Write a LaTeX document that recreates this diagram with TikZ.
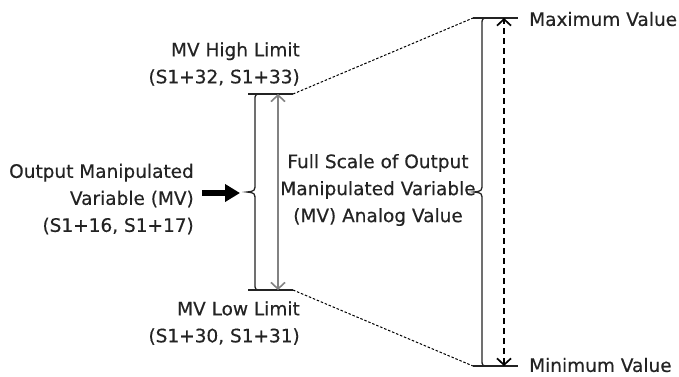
\documentclass[tikz,border=0pt]{standalone}
\usepackage{fontspec}
\setmainfont{DejaVu Sans}[FakeBold=0.4]
\usetikzlibrary{arrows.meta,positioning}
\definecolor{txtcol}{RGB}{35,35,35}
\definecolor{limgray}{RGB}{130,130,130}

% curly bracket opening to the right: x, top y, bottom y
\newcommand{\sidebrace}[3]{%
  \draw[brk] ({#1+7},#2) .. controls (#1,#2) .. (#1,{#2+7})
    -- (#1,{(#2+#3)/2-9}) .. controls (#1,{(#2+#3)/2-1}) .. ({#1-8},{(#2+#3)/2})
    .. controls (#1,{(#2+#3)/2+1}) .. (#1,{(#2+#3)/2+9})
    -- (#1,{#3-7}) .. controls (#1,#3) .. ({#1+7},#3);}

\begin{document}
\begin{tikzpicture}[x=1pt,y=-1pt,
  lbl/.style={inner sep=0pt,text=txtcol,font=\fontsize{18.5}{27}\selectfont},
  brk/.style={line width=1.3pt,txtcol},
  limarrow/.style={line width=1.8pt,limgray,
    {Straight Barb[length=6.5pt,width=14pt,line width=1.6pt]}-{Straight Barb[length=6.5pt,width=14pt,line width=1.6pt]}},
  fullarrow/.style={line width=2.8pt,black,dash pattern=on 6pt off 4pt,
    {Straight Barb[length=6.5pt,width=14pt,line width=1.7pt]}-{Straight Barb[length=6.5pt,width=14pt,line width=1.7pt]}},
  guide/.style={line width=1pt,black,dash pattern=on 2.5pt off 1.8pt},
  push/.style={line width=6pt,black,-{Triangle[length=15pt,width=17pt]}}]
  \useasboundingbox (0,0) rectangle (679,376);

  % texts
  \node[lbl,anchor=east,align=right] (hilim) at (300,64) {MV High Limit\\(S1+32, S1+33)};
  \node[lbl,anchor=east,align=right] (lolim) at (300,323) {MV Low Limit\\(S1+30, S1+31)};
  \node[lbl,anchor=east,align=right] (mvout) at (194,199) {Output Manipulated\\Variable (MV)\\(S1+16, S1+17)};
  \node[lbl,align=center] (full) at (378,190) {Full Scale of Output\\Manipulated Variable\\(MV) Analog Value};
  \node[lbl,anchor=west] (maxv) at (529,19) {Maximum Value};
  \node[lbl,anchor=west] (minv) at (529,365) {Minimum Value};

  % limit range
  \coordinate (hiL) at (248,94);  \coordinate (hiR) at (293,94);
  \coordinate (loL) at (248,290); \coordinate (loR) at (293,290);
  \coordinate (hiA) at (278,94);  \coordinate (loA) at (278,290);
  \draw[brk] (hiL) -- (hiR);
  \draw[brk] (loL) -- (loR);
  \sidebrace{255}{94}{290}
  \draw[limarrow] (loA) -- (hiA);

  % full scale range
  \coordinate (maxL) at (473,18);  \coordinate (maxR) at (518,18);
  \coordinate (minL) at (473,366); \coordinate (minR) at (518,366);
  \coordinate (maxA) at (504,18);  \coordinate (minA) at (504,366);
  \draw[brk] (maxL) -- (maxR);
  \draw[brk] (minL) -- (minR);
  \sidebrace{482}{18}{366}
  \draw[fullarrow] (minA) -- (maxA);

  \draw[guide] (hiR) -- (maxL);
  \draw[guide] (loR) -- (minL);

  \coordinate (pushS) at (202,193); \coordinate (pushE) at (240,193);
  \draw[push] (pushS) -- (pushE);
\end{tikzpicture}
\end{document}
